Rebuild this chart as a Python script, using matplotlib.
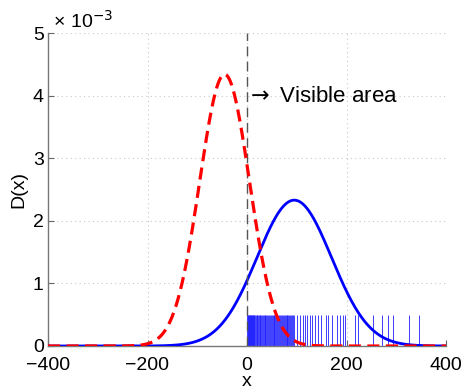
import numpy as np
import matplotlib
matplotlib.use("Agg")
import matplotlib.pyplot as plt

plt.rcParams['font.family'] = ['Liberation Sans', 'DejaVu Sans']

# Distribution parameters
red_mu, red_sigma, red_peak = -45.0, 50.0, 4.34e-3
blue_mu, blue_sigma, blue_peak = 95.0, 75.0, 2.33e-3

# Observed samples (rug) in the visible area
samples = [1, 2, 3, 4, 5, 6, 7, 8, 9, 10, 11, 12, 13, 14, 15, 16, 18, 20, 21,
           23, 24, 26, 27, 29, 31, 32, 34, 36, 37, 39, 41, 43, 44, 46, 48, 50,
           52, 54, 55, 57, 59, 61, 63, 65, 66, 68, 70, 72, 74, 76, 78, 80, 81,
           83, 85, 87, 88, 90, 92, 95, 100, 106, 112, 117, 121, 127, 131, 137,
           143, 148, 159, 163, 170, 180, 186, 192, 197, 217, 224, 254, 271,
           284, 294, 326, 346]
rug_height = 0.5e-3

xticks = [-400, -200, 0, 200, 400]
yticks = [0, 1e-3, 2e-3, 3e-3, 4e-3, 5e-3]
ytick_labels = ['0', '1', '2', '3', '4', '5']

x = np.linspace(-400, 400, 1601)
red = red_peak * np.exp(-0.5 * ((x - red_mu) / red_sigma) ** 2)
blue = blue_peak * np.exp(-0.5 * ((x - blue_mu) / blue_sigma) ** 2)

fig = plt.figure(figsize=(4.61, 3.89), dpi=100)
ax = fig.add_axes([48/461, 43/389, 398/461, 313/389])

ax.vlines(samples, 0, rug_height, colors='#2020ff', linewidth=0.6, zorder=2)
ax.plot(x, blue, color='#0000ff', linewidth=2.0, zorder=3)
ax.plot(x, red, color='#ff0000', linewidth=2.3, linestyle=(0, (3.8, 2.0)), zorder=4)
ax.plot([0, 0], [0, 5e-3], color='#555555', linewidth=1.0, linestyle=(0, (7, 4)), zorder=3)

ax.text(-3, 3.98e-3, r'$\rightarrow$ Visible area', fontsize=16, ha='left', va='center')

ax.set_xlim(-400, 400)
ax.set_ylim(0, 5e-3)
ax.set_xticks(xticks)
ax.set_xticklabels([str(t).replace('-', '−') for t in xticks])
ax.set_yticks(yticks)
ax.set_yticklabels(ytick_labels)
ax.tick_params(direction='in', length=4, labelsize=14, color='#666666')
ax.tick_params(axis='x', pad=8)
ax.tick_params(axis='y', pad=3)
ax.grid(True, linestyle=(0, (1, 3)), color='#c8c8c8', linewidth=0.8)
ax.set_axisbelow(True)
for s in ['top', 'right']:
    ax.spines[s].set_visible(False)
for s in ['left', 'bottom']:
    ax.spines[s].set_color('#777777')
    ax.spines[s].set_linewidth(1.0)

ax.set_xlabel('x', fontsize=14, labelpad=-1)
ax.set_ylabel('D(x)', fontsize=14, labelpad=4)
ax.text(0.0, 1.005, ' × 10$^{-3}$', transform=ax.transAxes, fontsize=14,
        ha='left', va='bottom')

fig.savefig('out.png', dpi=100)
